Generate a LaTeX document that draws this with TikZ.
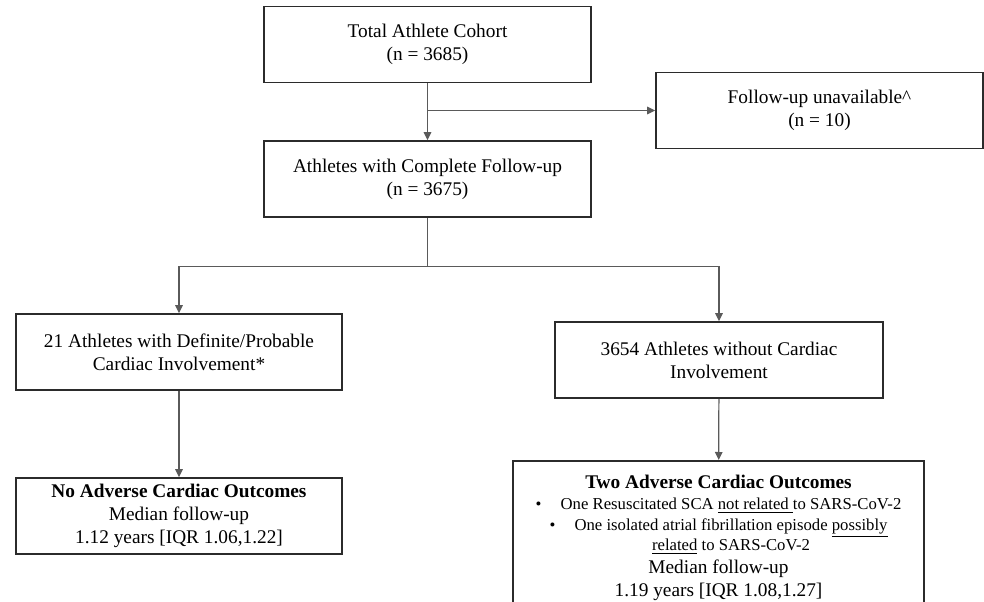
\documentclass[tikz,border=0pt]{standalone}
\usepackage{fontspec}
\setmainfont{Liberation Serif}
\usetikzlibrary{positioning,arrows.meta}
\definecolor{boxline}{HTML}{2B2B2B}
\definecolor{flowline}{HTML}{5A5A5A}

\begin{document}
\begin{tikzpicture}[
    line width=0.7pt,
    box/.style={draw=boxline, line width=0.9pt, minimum width=6.54cm, minimum height=1.52cm,
      inner sep=2pt, align=center, font=\fontsize{11}{13}\selectfont},
    flow/.style={draw=flowline, -{Triangle[length=1.6mm,width=1.5mm]}}
  ]
  \useasboundingbox (0,0) rectangle (19.68,-12.04);

  \node[box] (cohort) at (8.55,-0.89) {Total Athlete Cohort\\(n = 3685)};
  \node[box] (lost) at (16.39,-2.21) {Follow-up unavailable\^{}\\(n = 10)};
  \node[box] (complete) at (8.55,-3.58) {Athletes with Complete Follow-up\\(n = 3675)};
  \node[box, minimum width=6.52cm] (cardiac) at (3.58,-7.04)
    {21 Athletes with Definite/Probable\\Cardiac Involvement*};
  \node[box, minimum width=6.56cm] (nocardiac) at (14.38,-7.2)
    {3654 Athletes without Cardiac\\Involvement};
  \node[box, minimum width=6.52cm] (noevents) at (3.58,-10.32)
    {\textbf{No Adverse Cardiac Outcomes}\\Median follow-up\\1.12 years [IQR 1.06,1.22]};
  \node[box, minimum width=8.22cm, minimum height=3.08cm, anchor=north] (events) at (14.37,-9.2)
    {\textbf{Two Adverse Cardiac Outcomes}\\[-1pt]
     {\fontsize{9.5}{11.4}\selectfont\textbullet\hspace{1.15em}One Resuscitated SCA \underline{not related }to SARS-CoV-2}\\[-1.5pt]
     {\fontsize{9.5}{11.4}\selectfont\textbullet\hspace{1.15em}One isolated atrial fibrillation episode \underline{possibly}}\\[-1.5pt]
     {\fontsize{9.5}{11.4}\selectfont\hphantom{\textbullet\hspace{1.15em}}\underline{related} to SARS-CoV-2}\\
     Median follow-up\\1.19 years [IQR 1.08,1.27]};

  \coordinate[below=0.98cm of complete.south] (split);

  \draw[flow] (cohort) -- (complete);
  \draw[flow] (cohort.south |- lost.west) -- (lost);
  \draw[draw=flowline] (complete) -- (split);
  \draw[flow] (split) -| (cardiac);
  \draw[flow] (split) -| (nocardiac);
  \draw[flow] (cardiac) -- (noevents);
  \draw[flow] (nocardiac) -- (events);
\end{tikzpicture}
\end{document}
